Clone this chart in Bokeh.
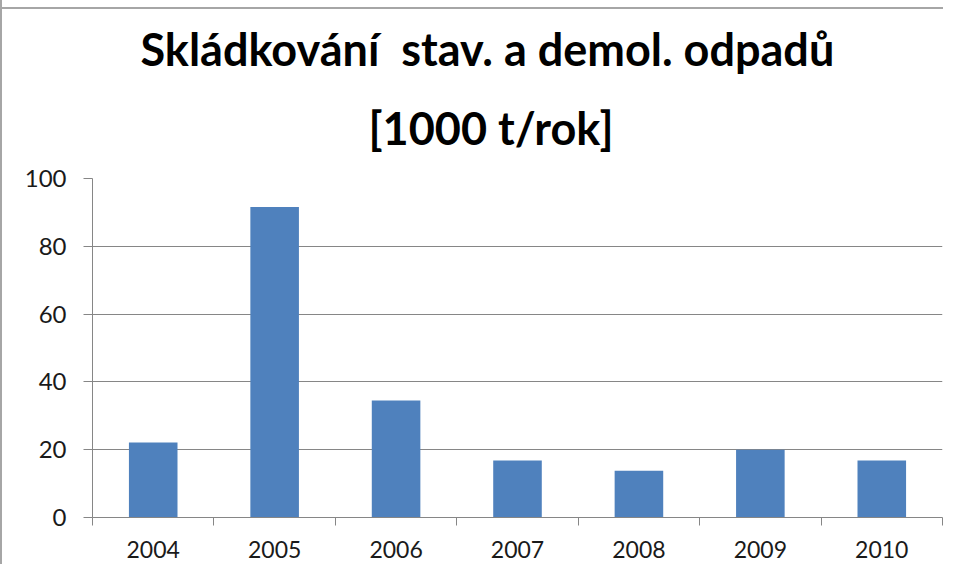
from bokeh.plotting import figure
from bokeh.models import FixedTicker, Title
from bokeh.embed import file_html
from bokeh.resources import INLINE

years = ["2004", "2005", "2006", "2007", "2008", "2009", "2010"]
values = [22.1, 91.6, 34.5, 16.8, 13.8, 20.0, 16.8]
y_ticks = [0, 20, 40, 60, 80, 100]
title_line1 = "Skládkování\u00a0 stav. a demol. odpadů"
title_line2 = "[1000 t/rok]"

centers = [i + 0.5 for i in range(len(years))]
bounds = list(range(len(years) + 1))

M = 30  # figure is shifted up by M px to leave room for the two title rows
W, H = 943, 564 + M
p = figure(width=W, height=H, output_backend="svg", toolbar_location=None,
           x_range=(0, len(years)), y_range=(0, 100),
           min_border_left=90, min_border_right=3, min_border_top=178 + M, min_border_bottom=47)
p.styles = {
    "margin-top": f"-{M}px",
    "border-left": "2px solid #a6a6a6",
    "background": f"linear-gradient(#a6a6a6, #a6a6a6) 0px {M + 7}px / 100% 2px no-repeat",
}

p.vbar(x=centers, top=values, width=0.4, fill_color="#4F81BD", line_color=None)

p.outline_line_color = None
p.background_fill_color = "white"
p.border_fill_color = None

t2 = Title(text=title_line2, align="left", offset=276, standoff=47, text_font="Lato",
           text_font_size="45px", text_font_style="bold", text_color="black",
           text_line_height=1.2)
t1 = Title(text=title_line1, align="left", offset=48, standoff=0, text_font="Lato",
           text_font_size="45px", text_font_style="bold", text_color="black",
           text_line_height=0.83)
p.add_layout(t2, "above")
p.add_layout(t1, "above")

# x axis
p.xaxis.ticker = FixedTicker(ticks=centers, minor_ticks=bounds)
p.xaxis.major_label_overrides = {c: y for c, y in zip(centers, years)}
p.xaxis.major_tick_out = 0
p.xaxis.major_tick_in = 0
p.xaxis.minor_tick_out = 8
p.xaxis.minor_tick_in = 0
p.xaxis.minor_tick_line_color = "#868686"
p.xaxis.axis_line_color = "#868686"
p.xaxis.major_label_text_font = "Lato"
p.xaxis.major_label_text_font_size = "23px"
p.xaxis.major_label_text_color = "#1a1a1a"
p.xaxis.major_label_standoff = 15

# y axis
p.yaxis.ticker = FixedTicker(ticks=y_ticks)
p.yaxis.major_tick_out = 9
p.yaxis.major_tick_in = 0
p.yaxis.minor_tick_line_color = None
p.yaxis.axis_line_color = "#868686"
p.yaxis.major_tick_line_color = "#868686"
p.yaxis.major_label_text_font = "Lato"
p.yaxis.major_label_text_font_size = "24px"
p.yaxis.major_label_text_color = "#1a1a1a"
p.yaxis.major_label_standoff = 17

p.xgrid.grid_line_color = None
p.ygrid.grid_line_color = "#868686"
p.ygrid.grid_line_width = 1

open("out.html", "w").write(file_html(p, INLINE))
